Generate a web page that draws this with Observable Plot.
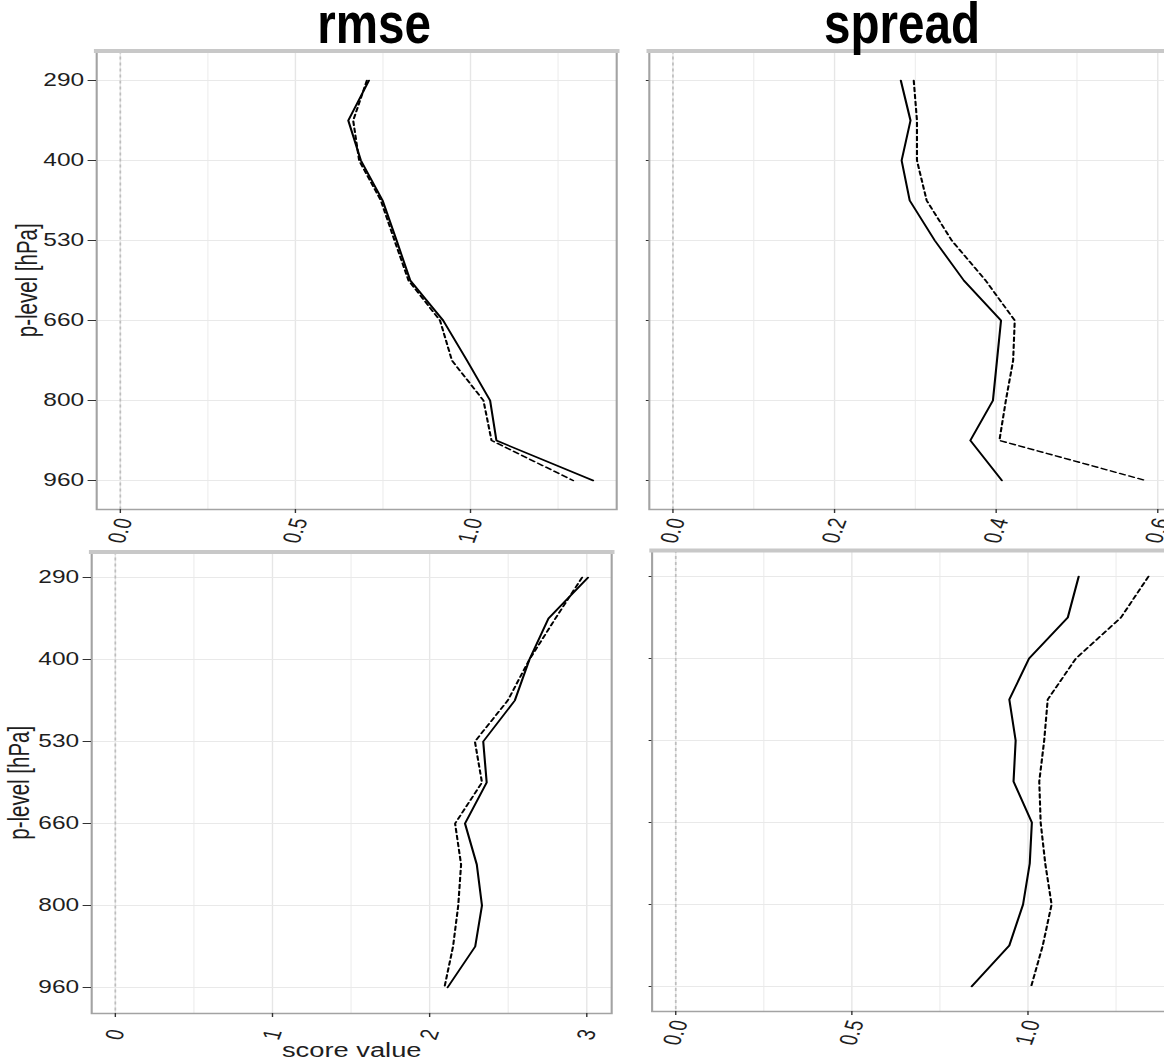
<!DOCTYPE html>
<html>
<head>
<meta charset="utf-8">
<script src="https://cdn.jsdelivr.net/npm/d3@7"></script>
<script src="https://cdn.jsdelivr.net/npm/@observablehq/plot@0.6"></script>
<style>
html, body { margin: 0; padding: 0; background: #fff; }
#root { position: relative; width: 1164px; height: 1058px; overflow: hidden; background: #fff; }
.panel { position: absolute; transform-origin: 0 0; }
.title { position: absolute; font-family: "Liberation Sans", Arial, sans-serif; font-weight: bold;
         font-size: 58px; line-height: 46px; white-space: nowrap; color: #000; }
</style>
</head>
<body>
<div id="root"></div>
<script>
// ---------- data ----------
const levels = [290, 345, 400, 465, 530, 595, 660, 730, 800, 880, 960];
const yTickLevels = [290, 400, 530, 660, 800, 960];
const panelTitles = ["rmse", "spread"];
const xAxisTitle = "score value";
const yAxisTitle = "p-level [hPa]";

const rmseTopSolid    = [0.710, 0.651, 0.687, 0.749, 0.789, 0.828, 0.922, 0.990, 1.056, 1.074, 1.350];
const rmseTopDashed   = [0.704, 0.665, 0.682, 0.744, 0.783, 0.823, 0.913, 0.947, 1.037, 1.060, 1.293];
const spreadTopSolid  = [0.282, 0.294, 0.283, 0.293, 0.324, 0.360, 0.406, 0.401, 0.396, 0.368, 0.407];
const spreadTopDashed = [0.298, 0.302, 0.302, 0.314, 0.345, 0.387, 0.423, 0.421, 0.412, 0.404, 0.585];
const rmseBotSolid    = [3.008, 2.756, 2.635, 2.542, 2.341, 2.363, 2.225, 2.300, 2.333, 2.290, 2.114];
const rmseBotDashed   = [2.970, 2.800, 2.635, 2.497, 2.288, 2.333, 2.162, 2.200, 2.182, 2.149, 2.094];
const spreadBotSolid  = [1.144, 1.113, 1.003, 0.947, 0.965, 0.959, 1.011, 1.005, 0.986, 0.947, 0.840];
const spreadBotDashed = [1.342, 1.264, 1.136, 1.056, 1.046, 1.032, 1.036, 1.049, 1.067, 1.042, 1.009];

const rmseTopTicks = [0, 0.5, 1.0],      rmseTopMinor = [0.25, 0.75, 1.25];
const spreadTopTicks = [0, 0.2, 0.4, 0.6], spreadTopMinor = [0.1, 0.3, 0.5];
const rmseBotTicks = [0, 1, 2, 3],       rmseBotMinor = [0.5, 1.5, 2.5];
const spreadBotTicks = [0, 0.5, 1.0],    spreadBotMinor = [0.25, 0.75, 1.25];

// ---------- layout ----------
const K = 1.4;          // horizontal stretch of the picture
const FRAME_W = 520;    // panel frame width (px, stretched)
const H = 520;
const root = document.getElementById("root");

function rowsOf(vals, run) { return levels.map((level, i) => ({level, value: vals[i], run})); }

function drawPanel(p) {
  const all = p.solid.concat(p.dashed);
  const lo = Math.min(0, d3.min(all)), hi = d3.max(all);
  const pad = 0.05 * (hi - lo);
  const ml = (p.frame[0] - p.left) / K;
  const mt = p.frame[1] - p.top;
  const mb = H - (p.frame[2] - p.top);
  const W = ml + FRAME_W / K + 12;
  const svg = Plot.plot({
    width: W, height: H,
    marginLeft: ml, marginRight: 12, marginTop: mt, marginBottom: mb,
    style: "overflow: visible; max-width: none; background: transparent; color: #1e1e1e; font-family: 'Liberation Sans', Arial, sans-serif;",
    x: {domain: [lo - pad, hi + pad]},
    y: {type: "point", domain: levels, padding: 0.62},
    marks: [
      Plot.gridX(p.minor, {stroke: "#efefef", strokeOpacity: 1, strokeWidth: 0.9}),
      Plot.gridX(p.ticks, {stroke: "#e6e6e6", strokeOpacity: 1, strokeWidth: 1}),
      Plot.gridY(yTickLevels, {stroke: "#e9e9e9", strokeOpacity: 1, strokeWidth: 1}),
      Plot.ruleX([0], {stroke: "#bdbdbd", strokeWidth: 1.2, strokeDasharray: "3,3"}),
      Plot.line(rowsOf(p.solid, "solid"), {x: "value", y: "level", stroke: "#000", strokeWidth: 1.5}),
      Plot.line(rowsOf(p.dashed, "dashed"), {x: "value", y: "level", stroke: "#000", strokeWidth: 1.5, strokeDasharray: "4,3"}),
      Plot.frame({stroke: "#a3a3a3", strokeWidth: 1.5}),
      Plot.frame({anchor: "top", stroke: "#c8c8c8", strokeWidth: 4}),
      Plot.axisX({ticks: p.ticks, tickFormat: p.fmt, tickSize: 4, tickPadding: 3, tickRotate: -75,
                  fontSize: 18, stroke: "#333", label: p.xLabel, labelAnchor: "center", labelOffset: 44, labelArrow: "none"}),
      Plot.axisY({ticks: yTickLevels, tickSize: p.showY ? 6 : 2, tickPadding: 3, stroke: "#333",
                  tickFormat: p.showY ? (d => String(d)) : (() => ""), fontSize: 17.5,
                  label: p.showY ? yAxisTitle : null, labelAnchor: "center", labelOffset: p.yLabelOffset, labelArrow: "none"})
    ]
  });
  // rotated, centred x tick labels
  const xl = svg.querySelector('g[aria-label="x-axis tick label"]');
  if (xl) {
    xl.setAttribute("text-anchor", "middle");
    xl.removeAttribute("transform");
    xl.querySelectorAll("text").forEach(t => {
      const m = /translate\(\s*([-\d.e]+)[\s,]+([-\d.e]+)/.exec(t.getAttribute("transform") || "");
      const x = m ? +m[1] : +t.getAttribute("x");
      t.setAttribute("transform", `translate(${x},${H - mb + 21.5}) rotate(-75)`);
      t.removeAttribute("x"); t.removeAttribute("dy");
      t.setAttribute("y", "0.35em");
    });
  }
  svg.querySelectorAll('g[aria-label="y-axis label"]').forEach(g => g.setAttribute("font-size", "20.5"));
  svg.querySelectorAll('g[aria-label="x-axis label"]').forEach(g => g.setAttribute("font-size", "19.5"));
  const div = document.createElement("div");
  div.className = "panel";
  div.style.left = p.left + "px";
  div.style.top = p.top + "px";
  div.style.transform = `scaleX(${K})`;
  div.append(svg);
  root.append(div);
}

drawPanel({solid: rmseTopSolid, dashed: rmseTopDashed, ticks: rmseTopTicks, minor: rmseTopMinor, fmt: d3.format(".1f"),
           left: 0, top: 40, frame: [96, 50.5, 509], showY: true, xLabel: null, yLabelOffset: 57});
drawPanel({solid: spreadTopSolid, dashed: spreadTopDashed, ticks: spreadTopTicks, minor: spreadTopMinor, fmt: d3.format(".1f"),
           left: 600, top: 40, frame: [648.6, 50.5, 509], showY: false, xLabel: null, yLabelOffset: 0});
drawPanel({solid: rmseBotSolid, dashed: rmseBotDashed, ticks: rmseBotTicks, minor: rmseBotMinor, fmt: d3.format("d"),
           left: 0, top: 540, frame: [91, 551.5, 1013], showY: true, xLabel: xAxisTitle, yLabelOffset: 59});
drawPanel({solid: spreadBotSolid, dashed: spreadBotDashed, ticks: spreadBotTicks, minor: spreadBotMinor, fmt: d3.format(".1f"),
           left: 600, top: 540, frame: [651.4, 550, 1011], showY: false, xLabel: null, yLabelOffset: 0});

// panel titles
[[panelTitles[0], 373.7], [panelTitles[1], 902]].forEach(([txt, cx]) => {
  const d = document.createElement("div");
  d.className = "title";
  d.textContent = txt;
  d.style.left = cx + "px";
  d.style.top = "0px";
  d.style.transform = "translateX(-50%) scaleX(0.82)";
  root.append(d);
});
</script>
</body>
</html>
